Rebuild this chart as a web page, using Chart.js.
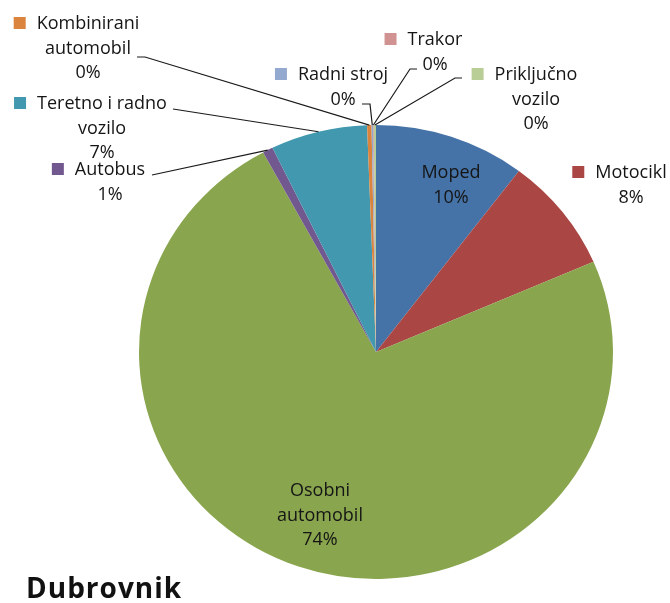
<!DOCTYPE html>
<html>
<head>
<meta charset="utf-8">
<script src="https://cdn.jsdelivr.net/npm/chart.js@4.4.1/dist/chart.umd.min.js"></script>
<style>
  body { margin: 0; background: #fff; }
</style>
</head>
<body>
<canvas id="myChart" width="670" height="603"></canvas>
<script>
// Data for the chart (share of vehicles, %)
const categories = ['Moped', 'Motocikl', 'Osobni automobil', 'Autobus', 'Teretno i radno vozilo',
                    'Kombinirani automobil', 'Radni stroj', 'Trakor', 'Priključno vozilo'];
const shares = [10.3, 8.2, 73.6, 0.7, 6.6, 0.3, 0.1, 0.05, 0.15];
const chartTitle = 'Dubrovnik';

const sliceColors = ['#4572A7', '#AA4643', '#89A54E', '#71588F', '#4198AF',
                     '#DB843D', '#93A9CF', '#D19392', '#B9CD96'];

// Where each data label sits: text centre, first baseline, words on first line, key square, leader start
const labelLayout = [
  { cx: 451, y: 178, split: 0, key: false },
  { cx: 631, y: 178, split: 0, key: true },
  { cx: 320, y: 496, split: 1, key: false },
  { cx: 110, y: 175, split: 0, key: true, leader: [[152, 175]] },
  { cx: 102, y: 109, split: 3, key: true, leader: [[173, 109]] },
  { cx: 88,  y: 29,  split: 1, key: true, leader: [[137, 57], [145, 57]] },
  { cx: 343, y: 80,  split: 0, key: true, leader: [[362, 104], [370, 104]] },
  { cx: 435, y: 45,  split: 0, key: true, leader: [[417, 69], [410, 69]] },
  { cx: 536, y: 80,  split: 1, key: true, leader: [[462, 78], [455, 78]] }
];

const stretchX = 1.044;   // the reference pie is slightly wider than tall
const lineGap = 24.5;
const textFont = '18px "Open Sans", sans-serif';

function labelLines(i) {
  const words = categories[i].split(' ');
  const split = labelLayout[i].split;
  const lines = split ? [words.slice(0, split).join(' '), words.slice(split).join(' ')] : [categories[i]];
  const total = shares.reduce((a, b) => a + b, 0);
  lines.push(Math.round(shares[i] / total * 100) + '%');
  return lines;
}

// Plugin: stretch the pie horizontally, then draw labels, leader lines and title
const pieLabels = {
  id: 'pieLabels',
  beforeDatasetsDraw(chart) {
    const arc = chart.getDatasetMeta(0).data[0];
    const ctx = chart.ctx;
    ctx.save();
    ctx.translate(arc.x, arc.y);
    ctx.scale(stretchX, 1);
    ctx.translate(-arc.x, -arc.y);
  },
  afterDatasetsDraw(chart) {
    const ctx = chart.ctx;
    ctx.restore();
    const arcs = chart.getDatasetMeta(0).data;

    ctx.save();
    ctx.strokeStyle = '#1a1a1a';
    ctx.lineWidth = 1.2;
    arcs.forEach((el, i) => {
      const lay = labelLayout[i];
      if (!lay.leader) return;
      const p = el.getProps(['x', 'y', 'startAngle', 'endAngle', 'outerRadius'], true);
      const a = (p.startAngle + p.endAngle) / 2;
      const ex = p.x + stretchX * p.outerRadius * Math.cos(a);
      const ey = p.y + p.outerRadius * Math.sin(a);
      ctx.beginPath();
      ctx.moveTo(lay.leader[0][0], lay.leader[0][1]);
      lay.leader.slice(1).forEach(pt => ctx.lineTo(pt[0], pt[1]));
      ctx.lineTo(ex, ey);
      ctx.stroke();
    });

    ctx.font = textFont;
    ctx.textAlign = 'center';
    ctx.textBaseline = 'alphabetic';
    ctx.fillStyle = '#151515';
    arcs.forEach((el, i) => {
      const lay = labelLayout[i];
      const lines = labelLines(i);
      lines.forEach((t, k) => ctx.fillText(t, lay.cx, lay.y + k * lineGap));
      if (lay.key) {
        const w = ctx.measureText(lines[0]).width;
        ctx.fillStyle = sliceColors[i];
        ctx.fillRect(lay.cx - w / 2 - 23, lay.y - 12, 12, 12);
        ctx.fillStyle = '#151515';
      }
    });

    ctx.textAlign = 'left';
    ctx.font = 'bold 28px "Open Sans", sans-serif';
    ctx.fillStyle = '#111';
    if ('letterSpacing' in ctx) ctx.letterSpacing = '1px';
    ctx.fillText(chartTitle, 26, 598);
    ctx.restore();
  }
};

function createChart() {
  const ctx = document.getElementById('myChart').getContext('2d');
  new Chart(ctx, {
    type: 'pie',
    data: {
      labels: categories,
      datasets: [{
        data: shares,
        backgroundColor: sliceColors,
        borderWidth: 0,
        hoverOffset: 0,
        offset: 0,
        clip: false
      }]
    },
    options: {
      responsive: false,
      animation: false,
      layout: { padding: { left: 149, right: 67, top: 125, bottom: 24 } },
      plugins: {
        legend: { display: false },
        tooltip: { enabled: false },
        title: { display: false }
      }
    },
    plugins: [pieLabels]
  });
}

createChart();
</script>
</body>
</html>
